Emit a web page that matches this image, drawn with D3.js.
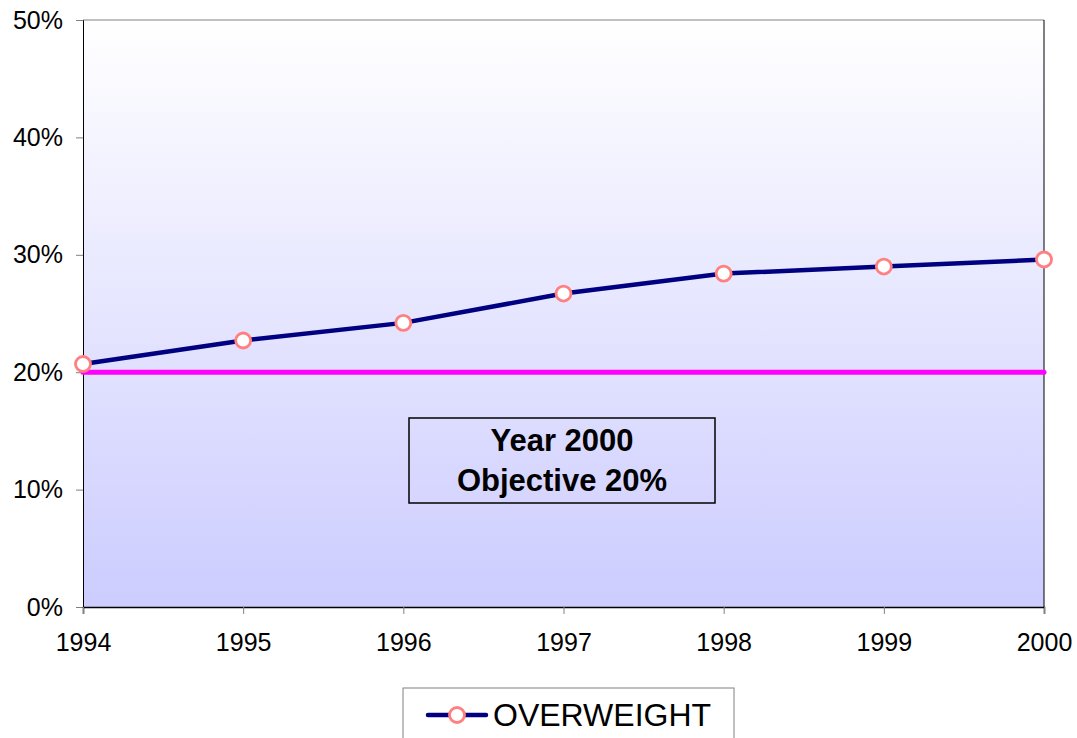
<!DOCTYPE html>
<html>
<head>
<meta charset="utf-8">
<script src="https://cdn.jsdelivr.net/npm/d3@7"></script>
<style>
  body { margin: 0; background: #fff; }
  text { font-family: "Liberation Sans", Arial, sans-serif; }
</style>
</head>
<body>
<div id="chart"></div>
<script>
var years = [1994, 1995, 1996, 1997, 1998, 1999, 2000];
var overweight = [20.7, 22.7, 24.2, 26.7, 28.4, 29.0, 29.6];
var objective = 20;
var yTicks = [0, 10, 20, 30, 40, 50];

var width = 1077, height = 738;
var margin = {left: 83, right: 33, top: 20, bottom: 131};

var svg = d3.select("#chart").append("svg")
    .attr("width", width)
    .attr("height", height);

var x = d3.scaleLinear()
    .domain([1994, 2000])
    .range([margin.left, width - margin.right]);

var y = d3.scaleLinear()
    .domain([0, 50])
    .range([height - margin.bottom, margin.top]);

// background gradient
var grad = svg.append("defs").append("linearGradient")
    .attr("id", "bg")
    .attr("x1", 0).attr("y1", 0).attr("x2", 0).attr("y2", 1);
grad.append("stop").attr("offset", "0%").attr("stop-color", "#ffffff");
grad.append("stop").attr("offset", "100%").attr("stop-color", "#ccccff");

svg.append("rect")
    .attr("x", x(1994))
    .attr("y", y(50))
    .attr("width", x(2000) - x(1994))
    .attr("height", y(0) - y(50))
    .attr("fill", "url(#bg)");

// top border grey
svg.append("line")
    .attr("x1", x(1994)).attr("x2", x(2000))
    .attr("y1", y(50)).attr("y2", y(50))
    .attr("stroke", "#808080").attr("stroke-width", 1);
// right border
svg.append("line")
    .attr("x1", x(2000)).attr("x2", x(2000))
    .attr("y1", y(50)).attr("y2", y(0))
    .attr("stroke", "#000").attr("stroke-width", 1);

// axes
var yAxis = svg.append("g")
    .attr("transform", "translate(" + x(1994) + ",0)")
    .call(d3.axisLeft(y).tickValues(yTicks).tickSize(7).tickPadding(13)
        .tickFormat(function (d) { return d + "%"; }));
yAxis.attr("font-size", 25).attr("font-family", "Liberation Sans, Arial, sans-serif");
yAxis.select(".domain").attr("stroke", "#000");
yAxis.selectAll(".tick line").attr("stroke", "#808080");
yAxis.selectAll("text").attr("fill", "#000");

var xAxis = svg.append("g")
    .attr("transform", "translate(0," + y(0) + ")")
    .call(d3.axisBottom(x).tickValues(years).tickSize(7).tickPadding(19)
        .tickFormat(d3.format("d")));
xAxis.attr("font-size", 25).attr("font-family", "Liberation Sans, Arial, sans-serif");
xAxis.select(".domain").attr("stroke", "#000").attr("stroke-width", 1.5);
xAxis.selectAll(".tick line").attr("stroke", "#808080");
xAxis.selectAll("text").attr("fill", "#000");

// objective line
svg.append("line")
    .attr("x1", x(1994)).attr("x2", x(2000))
    .attr("y1", y(objective)).attr("y2", y(objective))
    .attr("stroke", "#ff00ff")
    .attr("stroke-width", 5)
    .attr("stroke-linecap", "round");

// series line
var line = d3.line()
    .x(function (d, i) { return x(years[i]); })
    .y(function (d) { return y(d); });

svg.append("path")
    .datum(overweight)
    .attr("d", line)
    .attr("fill", "none")
    .attr("stroke", "#000080")
    .attr("stroke-width", 4.5);

svg.selectAll(".pt")
    .data(overweight)
    .enter()
    .append("circle")
    .attr("class", "pt")
    .attr("cx", function (d, i) { return x(years[i]); })
    .attr("cy", function (d) { return y(d); })
    .attr("r", 7.5)
    .attr("fill", "#fff")
    .attr("stroke", "#ff8080")
    .attr("stroke-width", 2.8);

// annotation box
var note = svg.append("g");
note.append("rect")
    .attr("x", 409).attr("y", 418)
    .attr("width", 306).attr("height", 85)
    .attr("fill", "none")
    .attr("stroke", "#000")
    .attr("stroke-width", 1.5);
note.append("text")
    .attr("x", 562).attr("y", 451)
    .attr("text-anchor", "middle")
    .attr("font-size", 31).attr("font-weight", "bold")
    .text("Year 2000");
note.append("text")
    .attr("x", 562).attr("y", 491)
    .attr("text-anchor", "middle")
    .attr("font-size", 31).attr("font-weight", "bold")
    .text("Objective 20%");

// legend
var legend = svg.append("g");
legend.append("rect")
    .attr("x", 403).attr("y", 688)
    .attr("width", 331).attr("height", 70)
    .attr("fill", "#fff")
    .attr("stroke", "#808080")
    .attr("stroke-width", 1);
legend.append("line")
    .attr("x1", 428).attr("x2", 486)
    .attr("y1", 715).attr("y2", 715)
    .attr("stroke", "#000080")
    .attr("stroke-width", 4.5)
    .attr("stroke-linecap", "round");
legend.append("circle")
    .attr("cx", 457).attr("cy", 715).attr("r", 7.5)
    .attr("fill", "#fff")
    .attr("stroke", "#ff8080")
    .attr("stroke-width", 2.8);
legend.append("text")
    .attr("x", 493).attr("y", 726)
    .attr("font-size", 32)
    .text("OVERWEIGHT");
</script>
</body>
</html>
